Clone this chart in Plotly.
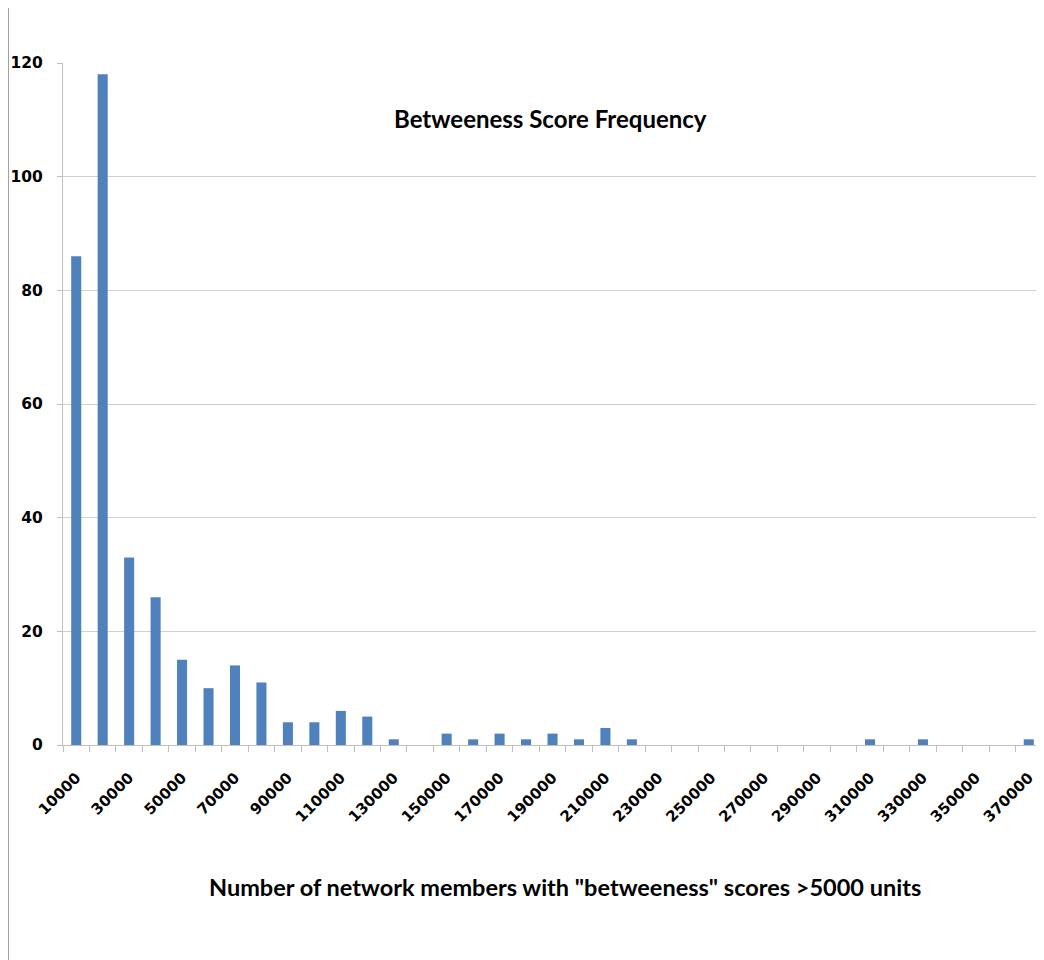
import plotly.graph_objects as go

bins = [10000, 20000, 30000, 40000, 50000, 60000, 70000, 80000, 90000, 100000,
        110000, 120000, 130000, 140000, 150000, 160000, 170000, 180000, 190000, 200000,
        210000, 220000, 230000, 240000, 250000, 260000, 270000, 280000, 290000, 300000,
        310000, 320000, 330000, 340000, 350000, 360000, 370000]
counts = [86, 118, 33, 26, 15, 10, 14, 11, 4, 4,
          6, 5, 1, 0, 2, 1, 2, 1, 2, 1,
          3, 1, 0, 0, 0, 0, 0, 0, 0, 0,
          1, 0, 1, 0, 0, 0, 1]
label_vals = bins[::2]
label_text = [str(v) for v in label_vals]
y_ticks = [0, 20, 40, 60, 80, 100, 120]

title_text = "Betweeness Score Frequency"
xtitle_text = 'Number of network members with "betweeness" scores >5000 units'

# page body has an 8px margin, so figure origin is at (8, 8)
OX, OY = 8, 8
L, T, PW, PH = 63 - OX, 63 - OY, 979, 682
W, H = 1036, 952

fig = go.Figure()
fig.add_trace(go.Bar(
    x=bins, y=counts,
    marker=dict(color="#4F81BD", line=dict(width=0)),
    hoverinfo="x+y",
))

xtickfont = dict(family="DejaVu Sans", size=15, color="#000000", weight="bold")
ytickfont = dict(family="DejaVu Sans", size=15.5, color="#000000", weight="bold")

def px_x(x):
    return (x - OX - L) / PW

def px_y(y):
    return 1 - (y - OY - T) / PH

fig.update_layout(
    width=W, height=H,
    margin=dict(l=L, r=W - L - PW, t=T, b=H - T - PH, autoexpand=False),
    paper_bgcolor="white", plot_bgcolor="white",
    bargap=0.62,
    showlegend=False,
    xaxis=dict(
        range=[5000, 375000],
        tickvals=label_vals, ticktext=label_text,
        tickangle=-45, tickfont=xtickfont, ticklabelstandoff=17,
        ticks="", showgrid=False, zeroline=False,
        showline=True, linecolor="#BFBFBF", linewidth=1,
        minor=dict(ticks="outside", tick0=5000, dtick=10000, ticklen=6,
                   tickcolor="#BFBFBF", tickwidth=1, showgrid=False),
    ),
    yaxis=dict(
        range=[0, 120], tickvals=y_ticks, tickfont=ytickfont,
        ticks="outside", ticklen=5, tickcolor="#BFBFBF", ticklabelstandoff=11,
        showgrid=True, gridcolor="#D0D0D0", gridwidth=1,
        zeroline=False, showline=True, linecolor="#BFBFBF", linewidth=1,
    ),
    annotations=[
        dict(text="<b>%s</b>" % title_text, x=px_x(550), xref="paper",
             y=px_y(118), yref="paper",
             showarrow=False, font=dict(family="Lato", size=24, color="#000"),
             xanchor="center", yanchor="middle"),
        dict(text="<b>%s</b>" % xtitle_text, x=px_x(565), xref="paper",
             y=px_y(887), yref="paper",
             showarrow=False, font=dict(family="Lato", size=23.5, color="#000"),
             xanchor="center", yanchor="middle"),
    ],
    shapes=[
        dict(type="line", xref="paper", yref="paper",
             x0=px_x(8.5), x1=px_x(8.5), y0=px_y(0), y1=px_y(960),
             line=dict(color="#A0A0A0", width=1)),
    ],
)

fig.write_html("out.html")
